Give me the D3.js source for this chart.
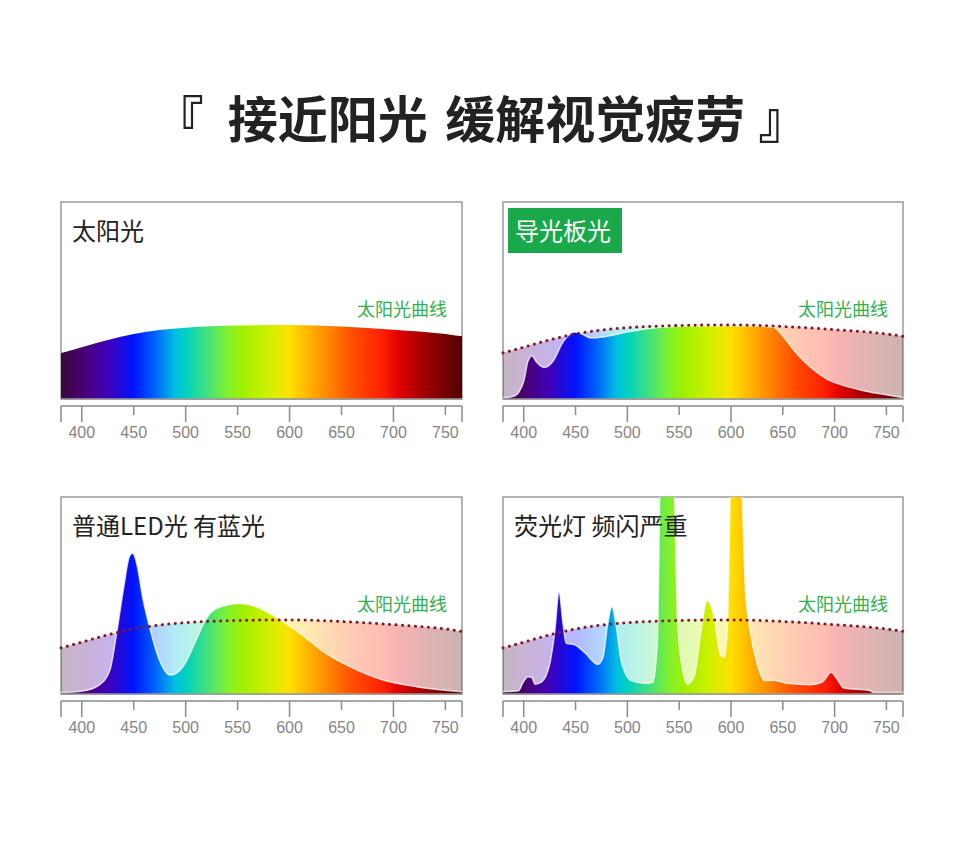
<!DOCTYPE html>
<html><head><meta charset="utf-8">
<script src="https://cdn.jsdelivr.net/npm/d3@7"></script>
<style>
html,body{margin:0;padding:0;background:#fff;}
svg{display:block;font-family:"Noto Sans CJK SC","Noto Sans",sans-serif;}
</style></head>
<body>
<svg id="c" width="980" height="842"></svg>
<script>
// ---------- data ----------
const titleParts = ["『", " 接近阳光", " 缓解视觉疲劳", " 』"];
const panelTitles = ["太阳光", "导光板光", "普通LED光 有蓝光", "荧光灯 频闪严重"];
const sunLabel = "太阳光曲线";
const tickValues = [400, 450, 500, 550, 600, 650, 700, 750];
const nmDomain = [380, 766];

// sunlight curve (relative intensity, 0-100 = panel height)
const sunNm  = [380, 390, 400, 425, 450, 475, 500, 550, 600, 650, 700, 750, 766];
const sunVal = [23.4, 24.8, 26.3, 30, 33, 35, 36.2, 37.3, 37.6, 36.8, 35.2, 33, 31.8];

// light guide plate
const lgpNm  = [380, 391, 400, 404, 408, 412, 420, 428, 438, 449, 456, 465, 478, 500, 532, 565, 596, 629, 641, 651, 661, 677, 693, 709, 725, 741, 766];
const lgpVal = [0.5, 1.5, 9, 19, 22, 19, 16, 19, 29, 34, 33, 31, 31.6, 34, 36.4, 37.2, 37.2, 37, 36.4, 31.3, 24.5, 16, 10, 6.8, 4.6, 2.9, 0.8];

// ordinary LED
const ledNm  = [380, 401, 417, 427, 433, 440, 446, 449, 453, 459, 466, 475, 485, 491, 501, 510, 520, 530, 552, 568, 587, 610, 635, 658, 690, 722, 766];
const ledVal = [0.7, 1.5, 4.6, 12, 29, 53, 70, 71.4, 66, 48, 32.5, 17, 9.6, 10.5, 17, 27.4, 38.4, 43.5, 46, 44.3, 39, 30.8, 20.6, 13.9, 7.1, 3.7, 1.2];

// fluorescent lamp
const cflNm  = [380, 395, 399.5, 404, 407.6, 411, 417, 425, 430, 434, 438, 441, 449, 459, 471.6, 476.5, 481, 485, 489, 494, 503.7, 516.5, 524.5, 529, 532, 544.5, 548.6, 553.4, 558, 564.6, 571, 577, 583.8, 590, 593.5, 596.6, 600, 609.5, 614, 619, 625.5, 632, 641.5, 654, 677, 688, 696.7, 702.4, 708.8, 734.5, 737.7, 766];
const cflVal = [1.2, 1.7, 6, 8.8, 8.5, 5, 6, 15, 32, 51.6, 35.5, 25.7, 25, 21, 15, 18.6, 35.5, 44.3, 35.5, 17, 6.8, 5.4, 6, 27, 110, 110, 35.5, 12, 5, 9.3, 32, 47.4, 39, 20, 18.6, 35.5, 110, 110, 52, 30.5, 15, 6.8, 7, 5.4, 4.7, 6, 11, 7.6, 3, 1.7, 0.7, 0.7];

// visible spectrum colour stops
const stopNm  = [380, 400, 425, 450, 470, 490, 500, 520, 540, 555, 580, 600, 620, 640, 660, 690, 705, 730, 766];
const stopCol = ["#3a0a3a", "#4a0070", "#4000b8", "#0014ff", "#0060ff", "#00c0e0", "#00d0c0", "#40e080", "#80f030", "#a0f000", "#d0f000", "#ffe000", "#ffb000", "#ff8000", "#ff5000", "#ff2000", "#e00000", "#a00000", "#500000"];

// ---------- drawing ----------
const svg = d3.select("#c");
const defs = svg.append("defs");

const titleGap = [0, 13, 6, 2];
svg.append("text").attr("x", 481).attr("y", 138)
  .attr("text-anchor", "middle").attr("font-size", 50).attr("font-weight", 700)
  .attr("fill", "#222").attr("xml:space", "preserve").style("white-space", "pre")
  .selectAll("tspan").data(titleParts).join("tspan")
  .attr("dx", (d, k) => titleGap[k]).text(d => d);

const panels = [
  {x: 61,  y: 202, w: 401, h: 197, nm: sunNm, val: sunVal, sun: false},
  {x: 503, y: 202, w: 400, h: 197, nm: lgpNm, val: lgpVal, sun: true, badge: true},
  {x: 61,  y: 497, w: 401, h: 197, nm: ledNm, val: ledVal, sun: true},
  {x: 503, y: 497, w: 400, h: 197, nm: cflNm, val: cflVal, sun: true}
];

panels.forEach((p, i) => {
  const g = svg.append("g");
  const x = d3.scaleLinear().domain(nmDomain).range([p.x, p.x + p.w]);
  const y = d3.scaleLinear().domain([0, 100]).range([p.y + p.h, p.y]);

  const gid = "grad" + i;
  const grad = defs.append("linearGradient").attr("id", gid)
    .attr("gradientUnits", "userSpaceOnUse")
    .attr("x1", x(nmDomain[0])).attr("x2", x(nmDomain[1])).attr("y1", 0).attr("y2", 0);
  stopNm.forEach((n, k) => {
    grad.append("stop")
      .attr("offset", (n - nmDomain[0]) / (nmDomain[1] - nmDomain[0]))
      .attr("stop-color", stopCol[k]);
  });
  const cid = "clip" + i;
  defs.append("clipPath").attr("id", cid).append("rect")
    .attr("x", p.x).attr("y", p.y).attr("width", p.w).attr("height", p.h);

  // frame
  g.append("rect").attr("x", p.x).attr("y", p.y).attr("width", p.w).attr("height", p.h)
    .attr("fill", "none").attr("stroke", "#9a9a9a").attr("stroke-width", 1.5);

  const sunPts = sunNm.map((n, k) => [n, sunVal[k]]);
  const pts = p.nm.map((n, k) => [n, p.val[k]]);
  const area = d3.area().x(d => x(d[0])).y0(y(0)).y1(d => y(d[1])).curve(d3.curveMonotoneX);
  const line = d3.line().x(d => x(d[0])).y(d => y(d[1])).curve(d3.curveMonotoneX);

  const cg = g.append("g").attr("clip-path", `url(#${cid})`);
  if (p.sun) {
    cg.append("path").attr("d", area(sunPts)).attr("fill", `url(#${gid})`).attr("opacity", 0.3);
  }
  cg.append("path").attr("d", area(pts)).attr("fill", `url(#${gid})`);
  if (p.sun) {
    cg.append("path").attr("d", line(pts)).attr("fill", "none")
      .attr("stroke", "rgba(255,255,255,0.75)").attr("stroke-width", 1.5);
  }

  g.append("line").attr("x1", p.x).attr("x2", p.x + p.w).attr("y1", p.y + p.h).attr("y2", p.y + p.h)
    .attr("stroke", "#9a9a9a").attr("stroke-width", 1.5);

  if (p.sun) {
    g.append("path").attr("d", line(sunPts)).attr("fill", "none")
      .attr("stroke", "#8a1526").attr("stroke-width", 3)
      .attr("stroke-linecap", "round").attr("stroke-dasharray", "0.1 6.4");
  }

  // title
  if (p.badge) {
    g.append("rect").attr("x", p.x + 5).attr("y", p.y + 6).attr("width", 114).attr("height", 45)
      .attr("fill", "#19a84a");
    g.append("text").attr("x", p.x + 12).attr("y", p.y + 38).attr("font-size", 24)
      .attr("fill", "#fff").text(panelTitles[i]);
  } else {
    g.append("text").attr("x", p.x + 11).attr("y", p.y + 38).attr("font-size", 24)
      .attr("fill", "#222").text(panelTitles[i]);
  }

  g.append("text").attr("x", p.x + p.w - 15).attr("y", p.y + 114)
    .attr("text-anchor", "end").attr("font-size", 18).attr("fill", "#2fb24e").text(sunLabel);

  // axis
  const axY = p.y + p.h + 7;
  const ax = g.append("g").attr("transform", `translate(0,${axY})`);
  ax.append("line").attr("x1", p.x).attr("x2", p.x + p.w).attr("stroke", "#8a8a8a").attr("stroke-width", 1.5);
  const tickAll = [nmDomain[0]].concat(tickValues, [nmDomain[1]]);
  ax.selectAll("line.t").data(tickAll).join("line").attr("class", "t")
    .attr("x1", d => x(d)).attr("x2", d => x(d)).attr("y1", 0)
    .attr("y2", d => (d === nmDomain[0] || d === nmDomain[1] || d % 100 === 0) ? 16 : 9)
    .attr("stroke", "#8a8a8a").attr("stroke-width", 1.5);
  ax.selectAll("text").data(tickValues).join("text")
    .attr("x", d => x(d)).attr("y", 32).attr("text-anchor", "middle")
    .attr("font-family", "'Liberation Sans', Arial, sans-serif")
    .attr("font-size", 16).attr("fill", "#858585").text(d => d);
});
</script>
</body></html>
